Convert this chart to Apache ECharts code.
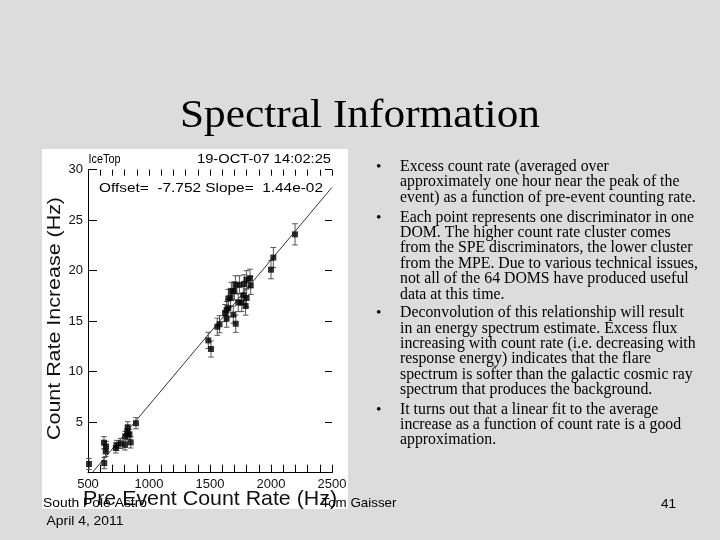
<!DOCTYPE html>
<html><head><meta charset="utf-8">
<script src="https://cdn.jsdelivr.net/npm/echarts/dist/echarts.min.js"></script>
<style>html,body{margin:0;padding:0;background:#dcdcdc}#c{width:720px;height:540px}</style>
</head><body><div id="c"></div>
<script>
// ---- data ----
const preRate = [2197, 2019, 2000, 1828, 1800, 1834, 1781, 1741, 1708, 1700, 1675, 1773, 1800, 1669, 1650,
  1732, 1760, 1792, 1650, 1636, 1623, 1691, 1636, 1711, 1578, 1560, 1486, 1508,
  508, 633, 631, 648, 645, 728, 735, 768, 803, 805, 825, 840, 823, 826, 850, 893];
const increase = [23.6, 21.3, 20.1, 19.25, 19.1, 18.55, 18.7, 18.6, 18.6, 18.0, 17.95, 17.55, 17.3, 17.35, 17.25,
  16.85, 16.85, 16.5, 16.3, 16.1, 15.8, 15.65, 15.25, 14.75, 14.7, 14.45, 13.1, 12.25,
  0.86, 0.95, 2.97, 2.6, 2.1, 2.45, 2.7, 2.9, 2.75, 3.6, 3.8, 3.8, 4.1, 4.5, 3.0, 4.9];
const incErr = [1.05, 1.0, 0.9, 0.9, 0.9, 0.9, 0.9, 0.9, 0.9, 0.9, 0.9, 0.9, 0.9, 0.9, 0.9,
  0.9, 0.9, 0.9, 0.85, 0.85, 0.85, 0.85, 0.85, 0.85, 0.85, 0.85, 0.8, 0.8,
  0.55, 0.55, 0.6, 0.5, 0.5, 0.5, 0.5, 0.5, 0.5, 0.5, 0.5, 0.5, 0.5, 0.55, 0.55, 0.55];
const fitLine = [[535, 0], [2500, 28.25]];
const xTickLabels = ['500', '1000', '1500', '2000', '2500'];
const yTickLabels = ['5', '10', '15', '20', '25', '30'];

const titleText = 'Spectral Information';
const bullets = [
  ['Excess count rate (averaged over', 'approximately one hour near the peak of the', 'event) as a function of pre-event counting rate.'],
  ['Each point represents one discriminator in one', 'DOM. The higher count rate cluster comes', 'from the SPE discriminators, the lower cluster',
   'from the MPE. Due to various technical issues,', 'not all of the 64 DOMS have produced useful', 'data at this time.'],
  ['Deconvolution of this relationship will result', 'in an energy spectrum estimate. Excess flux', 'increasing with count rate (i.e. decreasing with',
   'response energy) indicates that the flare', 'spectrum is softer than the galactic cosmic ray', 'spectrum that produces the background.'],
  ['It turns out that a linear fit to the average', 'increase as a function of count rate is a good', 'approximation.']
];

// ---- layout helpers ----
const mctx = document.createElement('canvas').getContext('2d');
function fitScale(text, font, target) { mctx.font = font; return target / mctx.measureText(text).width; }
function txt(text, font, x, y, opt) {
  opt = opt || {};
  const s = opt.width ? fitScale(text, font, opt.width) : 1;
  return {
    type: 'text', x: x, y: y, rotation: opt.rotation || 0, scaleX: s, z: opt.z || 20,
    style: { text: text, font: font, fill: opt.color || '#000', align: opt.align || 'left', verticalAlign: 'middle' }
  };
}

const serif = '"Liberation Serif", "Times New Roman", serif';
const sans = '"Liberation Sans", Arial, sans-serif';
const graphics = [];
graphics.push({ type: 'rect', shape: { x: 42, y: 149, width: 306, height: 360 }, style: { fill: '#ffffff' }, z: -10 });
graphics.push(txt(titleText, '39px ' + serif, 360, 117, { align: 'center', width: 360 }));
const bulletLayout = [[166.5, 15.8], [217.5, 15.4], [313, 15.4], [410, 15]];
bullets.forEach((lines, b) => {
  const [y0, step] = bulletLayout[b];
  graphics.push(txt('\u2022', '15.5px ' + serif, 376, y0));
  lines.forEach((l, i) => graphics.push(txt(l, '15.8px ' + serif, 400, y0 + i * step)));
});
graphics.push(txt('IceTop', '12px ' + sans, 88.5, 160, { width: 32 }));
graphics.push(txt('19-OCT-07 14:02:25', '12px ' + sans, 197, 160, { width: 134 }));
graphics.push(txt('Offset=  -7.752 Slope=  1.44e-02', '12px ' + sans, 99, 189, { width: 224 }));
graphics.push(txt('Pre Event Count Rate (Hz)', '21px ' + sans, 83, 499, { width: 254, color: '#111' }));
graphics.push(txt('Count Rate Increase (Hz)', '18px ' + sans, 55.5, 318.5, { width: 243, align: 'center', rotation: Math.PI / 2, color: '#111' }));
graphics.push(txt('South Pole Astro', '13px ' + sans, 43, 503, { width: 104, z: 30 }));
graphics.push(txt('April 4, 2011', '13px ' + sans, 46.5, 521, { width: 77 }));
graphics.push(txt('Tom Gaisser', '13px ' + sans, 321.5, 503, { width: 75, z: 30 }));
graphics.push(txt('41', '13px ' + sans, 661, 504, { width: 15 }));

const chart = echarts.init(document.getElementById('c'), null, { renderer: 'canvas' });
chart.setOption({
  backgroundColor: '#dcdcdc',
  animation: false,
  graphic: { elements: graphics },
  grid: { left: 88, top: 169.7, width: 244, height: 303, outerBoundsMode: 'none', containLabel: false },
  xAxis: [{
    type: 'value', min: 500, max: 2500, interval: 100, position: 'bottom',
    axisLine: { show: true, onZero: false, lineStyle: { color: '#000', width: 1 } },
    axisTick: { show: true, inside: true, length: 8, lineStyle: { color: '#000' } },
    axisLabel: { show: true, margin: 5, color: '#111', fontSize: 13, fontFamily: sans,
      formatter: v => (v % 500 === 0 ? xTickLabels[(v - 500) / 500] : ''), interval: 0, showMinLabel: true, showMaxLabel: true },
    splitLine: { show: false }
  }, {
    type: 'value', min: 500, max: 2500, interval: 100, position: 'top',
    axisLine: { show: true, onZero: false, lineStyle: { color: 'rgba(0,0,0,0)' } },
    axisLabel: { show: false }, splitLine: { show: false },
    axisTick: { show: true, inside: true, length: 6, interval: 0, lineStyle: { color: '#000' } }
  }],
  yAxis: [{
    type: 'value', min: 0, max: 30, interval: 5, position: 'left',
    axisLine: { show: true, onZero: false, lineStyle: { color: '#000', width: 1 } },
    axisTick: { show: true, inside: true, length: 9, lineStyle: { color: '#000' } },
    axisLabel: { show: true, margin: 5, color: '#111', fontSize: 13, fontFamily: sans,
      formatter: v => (v === 0 ? '' : yTickLabels[v / 5 - 1]), showMaxLabel: true },
    splitLine: { show: false }
  }, {
    type: 'value', min: 0, max: 30, interval: 5, position: 'right',
    axisLine: { show: false }, axisLabel: { show: false }, splitLine: { show: false },
    axisTick: { show: true, inside: true, length: 7, lineStyle: { color: '#000' } }
  }],
  series: [{
    type: 'line', data: fitLine, showSymbol: false, symbol: 'none', silent: true,
    lineStyle: { color: '#000', width: 0.8 }, z: 2
  }, {
    type: 'line', xAxisIndex: 1, yAxisIndex: 1, data: [], silent: true, symbol: 'none'
  }, {
    type: 'custom', silent: true, z: 3,
    data: preRate.map((x, i) => [x, increase[i], incErr[i]]),
    encode: { x: 0, y: 1 },
    renderItem: function (params, api) {
      const x = api.value(0), y = api.value(1), e = api.value(2);
      const t = api.coord([x, y + e]), b = api.coord([x, y - e]);
      const c = 2.8, st = { stroke: '#555', lineWidth: 1 };
      return { type: 'group', children: [
        { type: 'line', shape: { x1: t[0], y1: t[1], x2: b[0], y2: b[1] }, style: st },
        { type: 'line', shape: { x1: t[0] - c, y1: t[1], x2: t[0] + c, y2: t[1] }, style: st },
        { type: 'line', shape: { x1: b[0] - c, y1: b[1], x2: b[0] + c, y2: b[1] }, style: st }
      ] };
    }
  }, {
    type: 'scatter', data: preRate.map((x, i) => [x, increase[i]]), symbol: 'rect', symbolSize: 6,
    itemStyle: { color: '#000' }, silent: true, z: 4
  }]
});
</script>
</body></html>
